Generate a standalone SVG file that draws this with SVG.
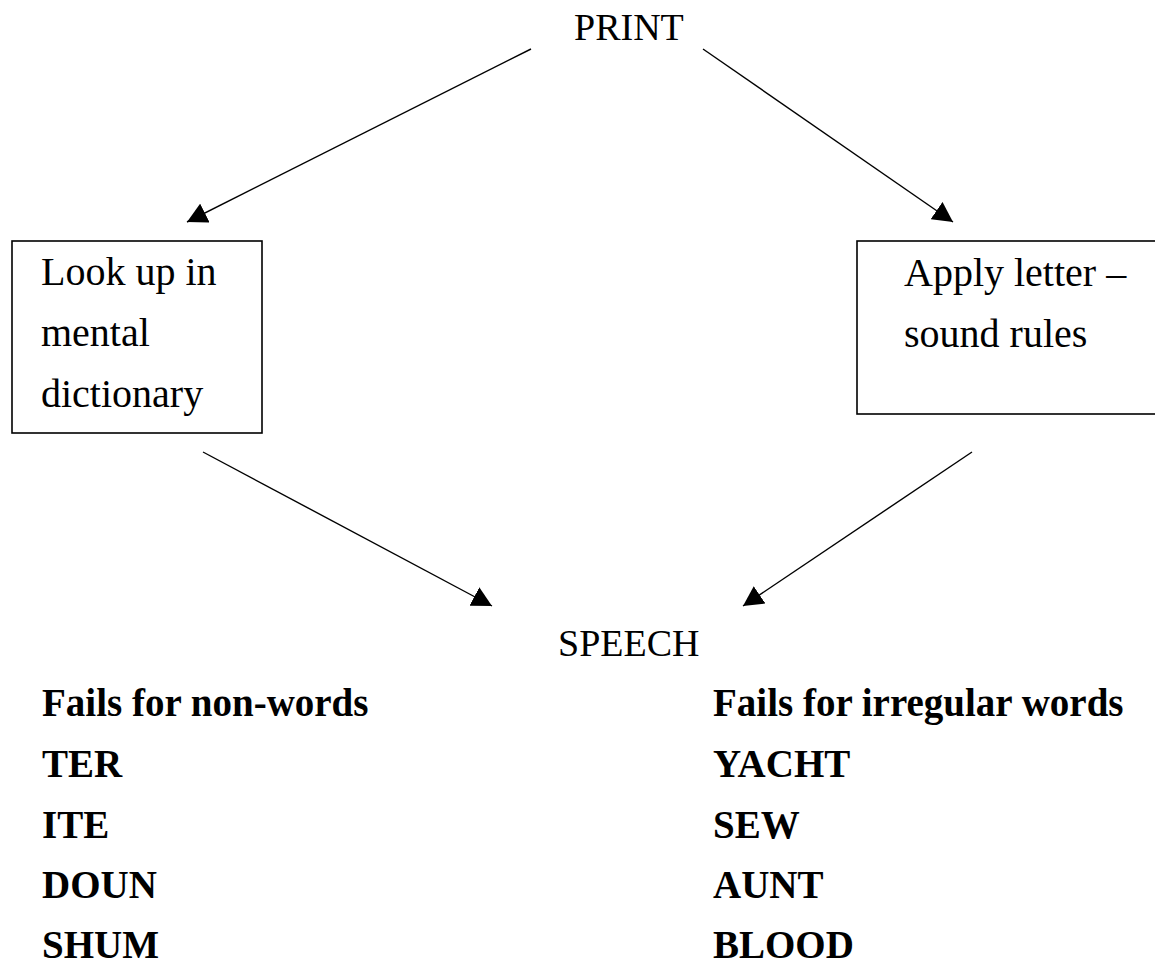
<svg xmlns="http://www.w3.org/2000/svg" width="1155" height="967" viewBox="0 0 1155 967">
  <style>
    .t { font-family: "Liberation Serif", "Times New Roman", serif; fill: #000; }
    .lbl { font-size: 38px; }
    .box-t { font-size: 40px; }
    .b { font-size: 39px; font-weight: bold; }
    .box { fill: #fff; stroke: #000; stroke-width: 1.6; }
    .conn { stroke: #000; stroke-width: 1.4; fill: none; marker-end: url(#arrow); }
  </style>
  <defs>
    <marker id="arrow" markerUnits="userSpaceOnUse" viewBox="0 0 20 21" refX="20" refY="10.5" markerWidth="20" markerHeight="21" orient="auto">
      <path d="M0,0 L20,10.5 L0,21 Z" fill="#000"/>
    </marker>
  </defs>
  <rect width="1155" height="967" fill="#fff"/>

  <g id="connectors">
    <line class="conn" x1="531" y1="49" x2="187" y2="222"/>
    <line class="conn" x1="703" y1="49" x2="953" y2="222"/>
    <line class="conn" x1="203" y1="452" x2="492" y2="606"/>
    <line class="conn" x1="972" y1="452" x2="743" y2="606"/>
  </g>

  <g id="print">
    <text class="t lbl" x="574" y="40">PRINT</text>
  </g>

  <g id="lookup">
    <rect class="box" x="12" y="241" width="250" height="192"/>
    <text class="t box-t" x="41" y="285">Look up in</text>
    <text class="t box-t" x="41" y="346">mental</text>
    <text class="t box-t" x="41" y="407">dictionary</text>
  </g>

  <g id="rules">
    <rect class="box" x="857" y="241" width="310" height="173"/>
    <text class="t box-t" x="904" y="286">Apply letter –</text>
    <text class="t box-t" x="904" y="347">sound rules</text>
  </g>

  <g id="speech">
    <text class="t lbl" x="558" y="656">SPEECH</text>
  </g>

  <g id="nonwords">
    <text class="t b" x="42" y="716">Fails for non-words</text>
    <text class="t b" x="42" y="777">TER</text>
    <text class="t b" x="42" y="838">ITE</text>
    <text class="t b" x="42" y="898">DOUN</text>
    <text class="t b" x="42" y="958">SHUM</text>
  </g>

  <g id="irregular">
    <text class="t b" x="713" y="716">Fails for irregular words</text>
    <text class="t b" x="713" y="777">YACHT</text>
    <text class="t b" x="713" y="838">SEW</text>
    <text class="t b" x="713" y="898">AUNT</text>
    <text class="t b" x="713" y="958">BLOOD</text>
  </g>
</svg>
